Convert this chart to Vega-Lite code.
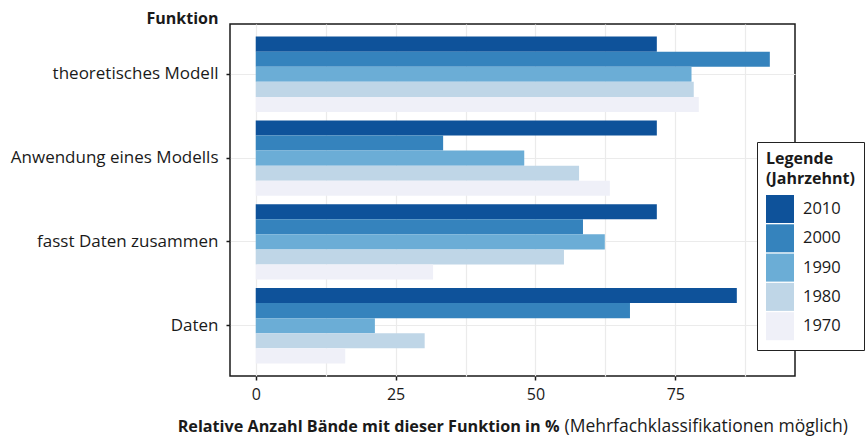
{
  "$schema": "https://vega.github.io/schema/vega-lite/v6.json",
  "width": 565,
  "height": 352,
  "autosize": {"type": "none"},
  "padding": {"left": 230, "top": 24, "right": 70, "bottom": 62},
  "config": {
    "font": "Open Sans",
    "view": {"stroke": "#1a1a1a", "strokeWidth": 1.5},
    "axis": {
      "labelFont": "Open Sans",
      "titleFont": "Open Sans",
      "labelColor": "#1a1a1a",
      "titleColor": "#1a1a1a",
      "gridColor": "#ebebeb",
      "gridWidth": 1.2,
      "tickColor": "#1a1a1a",
      "tickWidth": 1.5,
      "tickSize": 4,
      "domain": false,
      "labelFontSize": 16,
      "titleFontSize": 16,
      "labelLimit": 400
    },
    "legend": {
      "labelFont": "Open Sans",
      "titleFont": "Open Sans",
      "labelColor": "#1a1a1a",
      "titleColor": "#1a1a1a"
    }
  },
  "data": {
    "values": [
      {"funktion": "theoretisches Modell", "decade": "2010", "value": 71.7},
      {"funktion": "theoretisches Modell", "decade": "2000", "value": 91.9},
      {"funktion": "theoretisches Modell", "decade": "1990", "value": 77.9},
      {"funktion": "theoretisches Modell", "decade": "1980", "value": 78.3},
      {"funktion": "theoretisches Modell", "decade": "1970", "value": 79.2},
      {"funktion": "Anwendung eines Modells", "decade": "2010", "value": 71.7},
      {"funktion": "Anwendung eines Modells", "decade": "2000", "value": 33.5},
      {"funktion": "Anwendung eines Modells", "decade": "1990", "value": 48.0},
      {"funktion": "Anwendung eines Modells", "decade": "1980", "value": 57.8},
      {"funktion": "Anwendung eines Modells", "decade": "1970", "value": 63.3},
      {"funktion": "fasst Daten zusammen", "decade": "2010", "value": 71.7},
      {"funktion": "fasst Daten zusammen", "decade": "2000", "value": 58.5},
      {"funktion": "fasst Daten zusammen", "decade": "1990", "value": 62.4},
      {"funktion": "fasst Daten zusammen", "decade": "1980", "value": 55.1},
      {"funktion": "fasst Daten zusammen", "decade": "1970", "value": 31.7},
      {"funktion": "Daten", "decade": "2010", "value": 86.0},
      {"funktion": "Daten", "decade": "2000", "value": 66.9},
      {"funktion": "Daten", "decade": "1990", "value": 21.3},
      {"funktion": "Daten", "decade": "1980", "value": 30.2},
      {"funktion": "Daten", "decade": "1970", "value": 16.0}
    ]
  },
  "layer": [
    {
      "mark": {"type": "bar"},
      "encoding": {
        "y": {
          "field": "funktion",
          "type": "nominal",
          "sort": ["theoretisches Modell", "Anwendung eines Modells", "fasst Daten zusammen", "Daten"],
          "scale": {"paddingInner": 0.1, "paddingOuter": 0.15},
          "axis": {
            "title": "Funktion",
            "titleAngle": 0,
            "titleAlign": "right",
            "titleBaseline": "alphabetic",
            "titleX": -12,
            "titleY": -1,
            "titleFontWeight": "bold",
            "labelFontSize": 17,
            "labelPadding": 8,
            "grid": true,
            "bandPosition": 0.5
          }
        },
        "yOffset": {
          "field": "decade",
          "type": "nominal",
          "sort": ["2010", "2000", "1990", "1980", "1970"],
          "scale": {"paddingInner": 0, "paddingOuter": 0}
        },
        "x": {
          "field": "value",
          "type": "quantitative",
          "stack": null,
          "scale": {"domain": [-4.6, 96.4], "nice": false, "zero": false},
          "axis": {
            "orient": "bottom",
            "values": [0, 25, 50, 75],
            "grid": true,
            "labelPadding": 6,
            "title": "Relative Anzahl Bände mit dieser Funktion in %",
            "titleFontWeight": "bold",
            "titleFontSize": 16.2,
            "titleAlign": "right",
            "titleBaseline": "alphabetic",
            "titleX": 329,
            "titleY": 55
          }
        },
        "x2": {"datum": 0},
        "color": {
          "field": "decade",
          "type": "nominal",
          "scale": {
            "domain": ["2010", "2000", "1990", "1980", "1970"],
            "range": ["#0e529a", "#3583bd", "#6badd6", "#bfd6e7", "#eff0f8"]
          },
          "legend": {
            "orient": "none",
            "legendX": 527,
            "legendY": 118,
            "title": ["Legende", "(Jahrzehnt)"],
            "titleFontWeight": "bold",
            "titleFontSize": 16,
            "titleLineHeight": 20,
            "titlePadding": 8,
            "symbolType": "square",
            "symbolSize": 784,
            "symbolStrokeWidth": 0,
            "symbolOpacity": 1,
            "labelFontSize": 16.5,
            "labelOffset": 9,
            "rowPadding": 1.3,
            "padding": 9,
            "strokeColor": "#222222",
            "fillColor": "white"
          }
        }
      }
    },
    {
      "mark": {"type": "bar", "opacity": 0},
      "encoding": {
        "y": {
          "field": "funktion",
          "type": "nominal",
          "sort": ["theoretisches Modell", "Anwendung eines Modells", "fasst Daten zusammen", "Daten"]
        },
        "yOffset": {
          "field": "decade",
          "type": "nominal",
          "sort": ["2010", "2000", "1990", "1980", "1970"]
        },
        "x": {
          "field": "value",
          "type": "quantitative",
          "stack": null,
          "scale": {"domain": [-4.6, 96.4], "nice": false, "zero": false},
          "axis": {
            "orient": "bottom",
            "values": [12.5, 37.5, 62.5, 87.5],
            "grid": true,
            "labels": false,
            "ticks": false,
            "title": "(Mehrfachklassifikationen möglich)",
            "titleFontWeight": "normal",
            "titleFontSize": 17.5,
            "titleAlign": "left",
            "titleBaseline": "alphabetic",
            "titleX": 334,
            "titleY": 55
          }
        },
        "x2": {"datum": 0}
      }
    }
  ],
  "resolve": {"axis": {"x": "independent"}}
}
